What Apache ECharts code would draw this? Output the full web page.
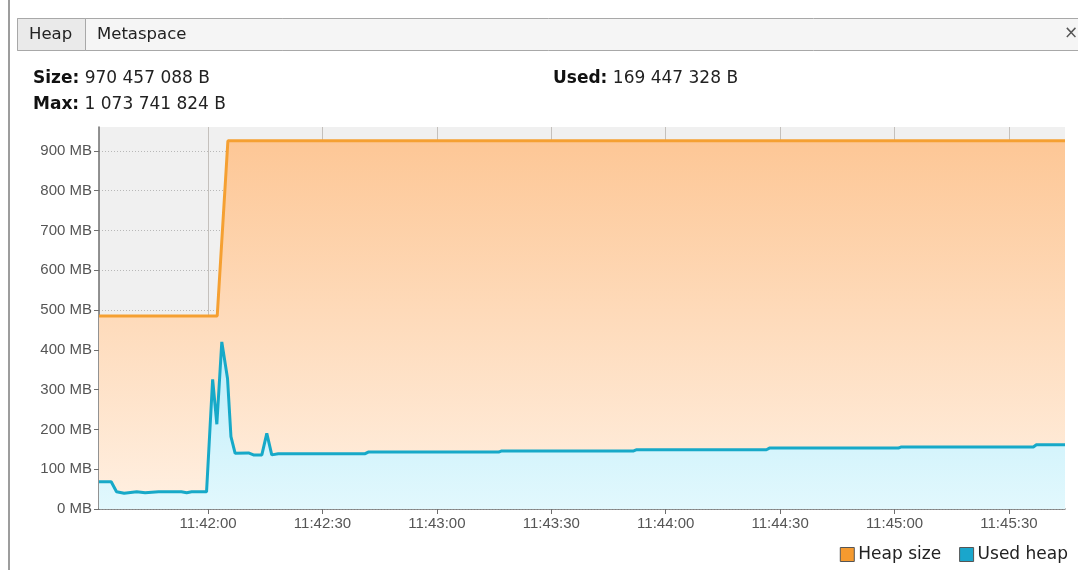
<!DOCTYPE html>
<html><head><meta charset="utf-8">
<script src="https://cdn.jsdelivr.net/npm/echarts@6/dist/echarts.min.js"></script>
<style>html,body{margin:0;padding:0;background:#fff}#c{width:1078px;height:570px}</style>
</head><body><div id="c"></div><script>
// ---- data ----
const BASE_TIME = '11:42:00';
const X_START = -28.6;   // seconds relative to BASE_TIME (left edge of plot)
const X_END = 224.7;     // seconds relative to BASE_TIME (right edge of plot)
const xTickLabels = ['11:42:00','11:42:30','11:43:00','11:43:30','11:44:00','11:44:30','11:45:00','11:45:30'];
const yTickValues = [0,100,200,300,400,500,600,700,800,900];
const Y_MAX = 960;

const heapTimes = [-28.6, 2.4, 5.2, 224.7];
const heapSizeMB = [485, 485, 925.5, 925.5];

const usedTimes = [-28.6, -25.4, -24.0, -22.0, -18.7, -16.5, -13.0, -7.0, -5.6, -4.3, -0.4, 1.2, 2.3, 3.6, 5.1, 6.0, 7.1, 10.6, 11.9, 14.1, 15.4, 16.7, 18.4,
                   41.2, 42.0, 76.2, 77.0, 111.6, 112.4, 146.4, 147.2, 181.0, 181.8, 216.4, 217.2, 224.7];
const usedHeapMB = [68.6, 68.6, 43.5, 39.5, 43.2, 41, 43.2, 43.2, 41, 43.2, 43.2, 326, 213, 420, 328, 182, 140, 141, 136, 136, 190, 136, 139,
                    139, 143, 143, 146, 146, 149, 149, 153, 153, 156, 156, 161.6, 161.6];

const seriesNames = ['Heap size', 'Used heap'];
const statLabels = ['Size:', 'Max:', 'Used:'];
const statValues = ['970 457 088 B', '1 073 741 824 B', '169 447 328 B'];
const tabLabels = ['Heap', 'Metaspace'];

// ---- helpers ----
function toSec(s) { const p = s.split(':').map(Number); return p[0]*3600 + p[1]*60 + p[2]; }
function pad(n) { return (n < 10 ? '0' : '') + n; }
function fmt(v) { v = Math.round(v); return pad(Math.floor(v/3600)) + ':' + pad(Math.floor(v/60)%60) + ':' + pad(v%60); }
const base = toSec(BASE_TIME);
const xTicks = xTickLabels.map(toSec);

const chart = echarts.init(document.getElementById('c'), null, {renderer: 'canvas'});
const HF = 'DejaVu Sans';
const AF = 'Liberation Sans';

function statText(i, x, y) {
  return {
    type: 'text', x: x, y: y, silent: true,
    style: {
      text: '{b|' + statLabels[i] + '}{n| ' + statValues[i] + '}',
      verticalAlign: 'middle',
      rich: {
        b: {fontFamily: HF, fontSize: 17, fontWeight: 'bold', fill: '#111'},
        n: {fontFamily: HF, fontSize: 17, fill: '#222'}
      }
    }
  };
}

const option = {
  animation: false,
  backgroundColor: '#ffffff',
  grid: {left: 99, right: 13, top: 127, bottom: 61, show: true, backgroundColor: '#f0f0f0', borderWidth: 0, outerBoundsMode: 'none', containLabel: false},
  xAxis: {
    type: 'value', min: base + X_START, max: base + X_END,
    axisLine: {show: true, lineStyle: {color: '#6e6e6e', width: 1.5}},
    axisTick: {show: true, length: 5, lineStyle: {color: '#6e6e6e'}, customValues: xTicks},
    axisLabel: {customValues: xTicks, formatter: fmt, color: '#555', fontFamily: AF, fontSize: 15, margin: 7},
    splitLine: {show: true, lineStyle: {color: '#c4c0bc', width: 1}}
  },
  yAxis: {
    type: 'value', min: 0, max: Y_MAX,
    axisLine: {show: true, lineStyle: {color: '#6e6e6e', width: 1.5}},
    axisTick: {show: true, length: 5, lineStyle: {color: '#6e6e6e'}, customValues: yTickValues},
    axisLabel: {customValues: yTickValues, formatter: v => v + ' MB', color: '#555', fontFamily: AF, fontSize: 15, margin: 7},
    splitLine: {show: true, lineStyle: {color: '#b8b8b8', width: 1, type: [1, 2]}}
  },
  legend: {
    right: 5, top: 541, itemWidth: 14, itemHeight: 14, itemGap: 18,
    icon: 'rect',
    itemStyle: {borderColor: '#555', borderWidth: 1},
    textStyle: {fontFamily: HF, fontSize: 17, color: '#222', padding: [0, 0, 0, -1]},
    data: seriesNames
  },
  series: [
    {
      name: seriesNames[0], type: 'line', symbol: 'none', z: 2,
      data: heapTimes.map((t, i) => [base + t, heapSizeMB[i]]),
      itemStyle: {color: '#f59a2f'},
      lineStyle: {color: '#f5a032', width: 3},
      areaStyle: {opacity: 1, color: new echarts.graphic.LinearGradient(0, 0, 0, 1, [
        {offset: 0, color: '#fdc796'}, {offset: 1, color: '#fff0e2'}])}
    },
    {
      name: seriesNames[1], type: 'line', symbol: 'none', z: 3,
      data: usedTimes.map((t, i) => [base + t, usedHeapMB[i]]),
      itemStyle: {color: '#1aa6cc'},
      lineStyle: {color: '#17a9c8', width: 3},
      areaStyle: {opacity: 1, color: new echarts.graphic.LinearGradient(0, 0, 0, 1, [
        {offset: 0, color: '#bdedfa'}, {offset: 1, color: '#e2f8fd'}])}
    }
  ],
  graphic: [
    {type: 'line', silent: true, shape: {x1: 9, y1: 0, x2: 9, y2: 570}, style: {stroke: '#9d9d9d', lineWidth: 2}},
    {type: 'rect', silent: true, shape: {x: 17.5, y: 18.5, width: 1062, height: 32}, style: {fill: '#f5f5f5', stroke: '#a8a8a8', lineWidth: 1}},
    {type: 'rect', silent: true, shape: {x: 17.5, y: 18.5, width: 68, height: 32}, style: {fill: '#eaeaea', stroke: '#a8a8a8', lineWidth: 1}},
    {type: 'text', silent: true, x: 29, y: 35, style: {text: tabLabels[0], fontFamily: HF, fontSize: 16.5, fill: '#222', verticalAlign: 'middle'}},
    {type: 'text', silent: true, x: 97, y: 35, style: {text: tabLabels[1], fontFamily: HF, fontSize: 16.5, fill: '#222', verticalAlign: 'middle'}},
    {type: 'text', silent: true, x: 1071, y: 34, style: {text: '×', fontFamily: HF, fontSize: 17, fill: '#555', align: 'center', verticalAlign: 'middle'}},
    statText(0, 33, 79),
    statText(1, 33, 105),
    statText(2, 553, 79)
  ]
};
chart.setOption(option);
</script></body></html>
